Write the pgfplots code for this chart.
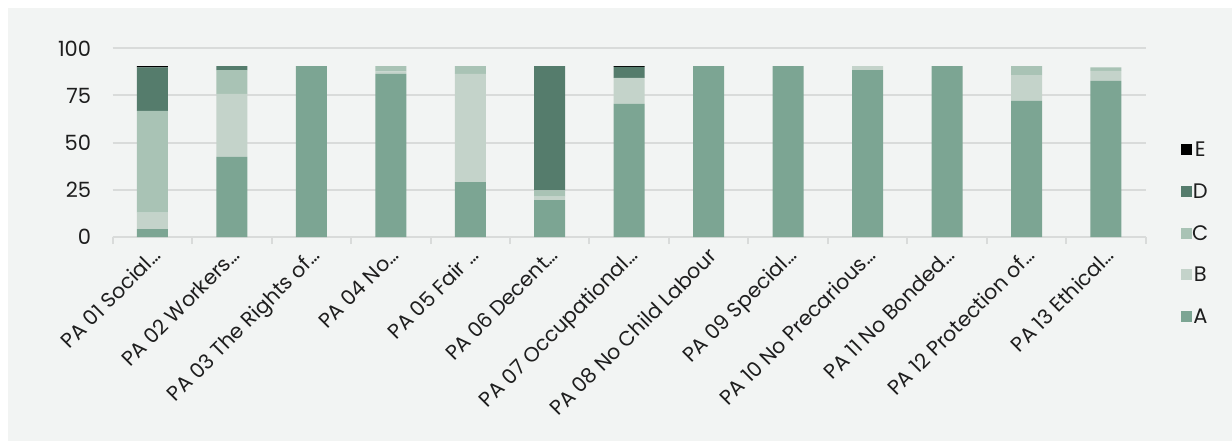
\documentclass[border=0pt]{standalone}
\usepackage{pgfplots}
\pgfplotsset{compat=1.18}
\usepackage{pgfplotstable}
\usepackage{fontspec}
\setmainfont{Poppins}
\definecolor{bgcol}{HTML}{F2F4F3}
\definecolor{gridgray}{HTML}{D9DBDA}
\definecolor{cA}{HTML}{7CA593}
\definecolor{cB}{HTML}{C4D3CA}
\definecolor{cC}{HTML}{A9C3B5}
\definecolor{cD}{HTML}{557C6C}
\definecolor{cE}{HTML}{000000}
\definecolor{txt}{HTML}{1E1E1E}
\pgfplotstableread{
x A B C D E
0 4.2 8.7 53.9 23.1 0.7
1 42.4 33.4 12.7 2.1 0
2 90.6 0 0 0 0
3 86.4 1.4 2.8 0 0
4 29.1 57.3 4.2 0 0
5 19.6 1.8 3.3 65.9 0
6 70.5 13.8 0 5.8 0.5
7 90.6 0 0 0 0
8 90.6 0 0 0 0
9 88.5 2.1 0 0 0
10 90.6 0 0 0 0
11 72.1 13.7 4.8 0 0
12 82.7 5.3 1.9 0 0
}\datatable
\begin{document}
\begin{tikzpicture}
\useasboundingbox (0,0) rectangle (616pt,220.5pt);
\fill[bgcol] (4pt,0) rectangle (616pt,216.5pt);
\begin{axis}[
  at={(56.35pt,102pt)}, anchor=south west,
  scale only axis, width=516.5pt, height=94.35pt,
  xmin=-0.5, xmax=12.5, ymin=0, ymax=100,
  ybar stacked, bar width=15.5pt,
  axis lines*=left,
  y axis line style={draw=none},
  x axis line style={draw=gridgray, line width=1pt},
  ytick={0,25,50,75,100},
  ytick style={draw=none},
  ymajorgrids, grid style={draw=gridgray, line width=1pt},
  xtick={0,...,12},
  major x tick style={draw=none},
  minor xtick={-0.5,0.5,...,12.5},
  minor x tick style={draw=gridgray, line width=1pt},
  tick align=outside, minor tick length=3.5pt,
  xticklabels={PA 01 Social…,PA 02 Workers…,PA 03 The Rights of…,PA 04 No…,PA 05 Fair …,PA 06 Decent…,PA 07 Occupational…,PA 08 No Child Labour,PA 09 Special…,PA 10 No Precarious…,PA 11 No Bonded…,PA 12 Protection of…,PA 13 Ethical…},
  x tick label style={rotate=45, anchor=north east, inner sep=0pt, yshift=0.5pt, xshift=-0.7pt, font=\fontsize{10.3}{11}\selectfont, text=txt},
  y tick label style={anchor=east, xshift=-3pt, font=\fontsize{10.5}{12}\selectfont, text=txt},
  /pgf/number format/assume math mode=true,
  legend style={at={(1.034,0.0185)}, anchor=west, draw=none, fill=none, inner sep=0pt,
    row sep=14.3pt, font=\fontsize{10.5}{11}\selectfont, text=txt,
    nodes={inner sep=0pt, text height=6.5pt, text depth=0pt},
    /tikz/every even column/.append style={column sep=2pt}},
  reverse legend,
  legend image code/.code={\fill[#1] (0pt,-2.5pt) rectangle (5.5pt,3pt);},
]
\addplot[fill=cA, draw=none] table[x=x, y=A] {\datatable};
\addplot[fill=cB, draw=none] table[x=x, y=B] {\datatable};
\addplot[fill=cC, draw=none] table[x=x, y=C] {\datatable};
\addplot[fill=cD, draw=none] table[x=x, y=D] {\datatable};
\addplot[fill=cE, draw=none] table[x=x, y=E] {\datatable};
\legend{A,B,C,D,E}
\end{axis}
\end{tikzpicture}
\end{document}
